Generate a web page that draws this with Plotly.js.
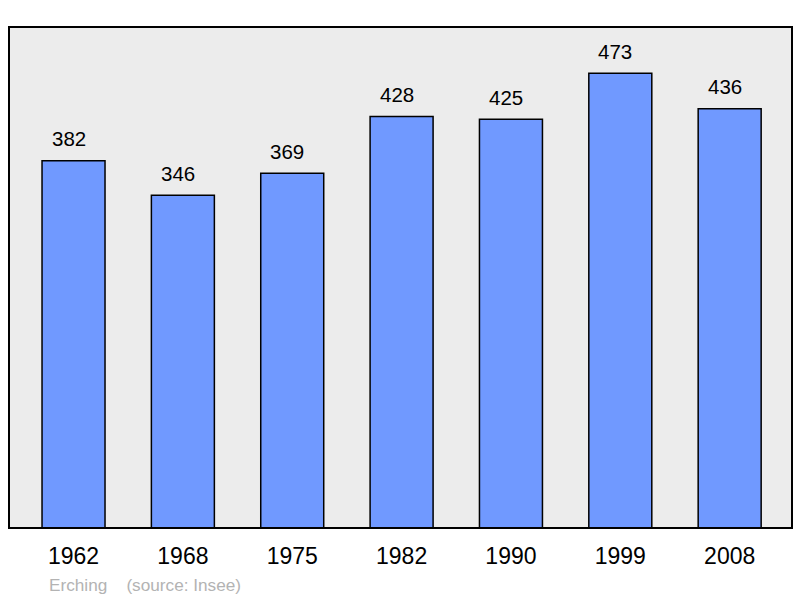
<!DOCTYPE html>
<html><head><meta charset="utf-8">
<script src="https://cdn.plot.ly/plotly-3.0.1.min.js"></script>
<style>html,body{margin:0;padding:0;background:#fff;}#chart{width:800px;height:598px;}</style>
</head><body><div id="chart"></div>
<script>
const years = ['1962','1968','1975','1982','1990','1999','2008'];
const population = [382,346,369,428,425,473,436];
const footerText = 'Erching    (source: Insee)';

const trace = {
  type:'bar', x: years.map((_,i)=>i), y: population, width:0.576,
  marker:{color:'#7099ff', line:{color:'#000', width:1.5}},
  hoverinfo:'skip'
};
const annotations = years.map((yr,i)=>({
  x: i, y: population[i], xref:'x', yref:'y', text: String(population[i]),
  showarrow:false, yanchor:'middle', yshift:22, xshift:-5,
  font:{family:'Liberation Sans, Arial, sans-serif', size:20.5, color:'#000'}
}));
annotations.push({
  xref:'paper', yref:'paper', x:(47-9)/783, y:-(585-528)/501, xanchor:'left', yanchor:'middle',
  text: footerText, showarrow:false,
  font:{family:'Liberation Sans, Arial, sans-serif', size:17.2, color:'#b3b3b3'}
});
const layout = {
  width:800, height:598,
  margin:{l:9, r:8, t:27, b:70, pad:0},
  paper_bgcolor:'#ffffff', plot_bgcolor:'#ececec',
  showlegend:false,
  xaxis:{type:'linear', range:[-0.59,6.57], showgrid:false, zeroline:false,
    showline:false, ticks:'', tickmode:'array', tickvals: years.map((_,i)=>i), ticktext: years,
    ticklabelstandoff:12,
    tickfont:{family:'Liberation Sans, Arial, sans-serif', size:23, color:'#000'}},
  yaxis:{range:[0,521], showgrid:false, zeroline:false, showticklabels:false, showline:false, ticks:''},
  shapes:[{type:'rect', xref:'paper', yref:'paper', x0:0, x1:1, y0:0, y1:1,
    line:{color:'#000', width:2}, fillcolor:'rgba(0,0,0,0)', layer:'above'}],
  annotations: annotations
};
Plotly.newPlot('chart',[trace],layout,{displayModeBar:false, staticPlot:true});
</script></body></html>
